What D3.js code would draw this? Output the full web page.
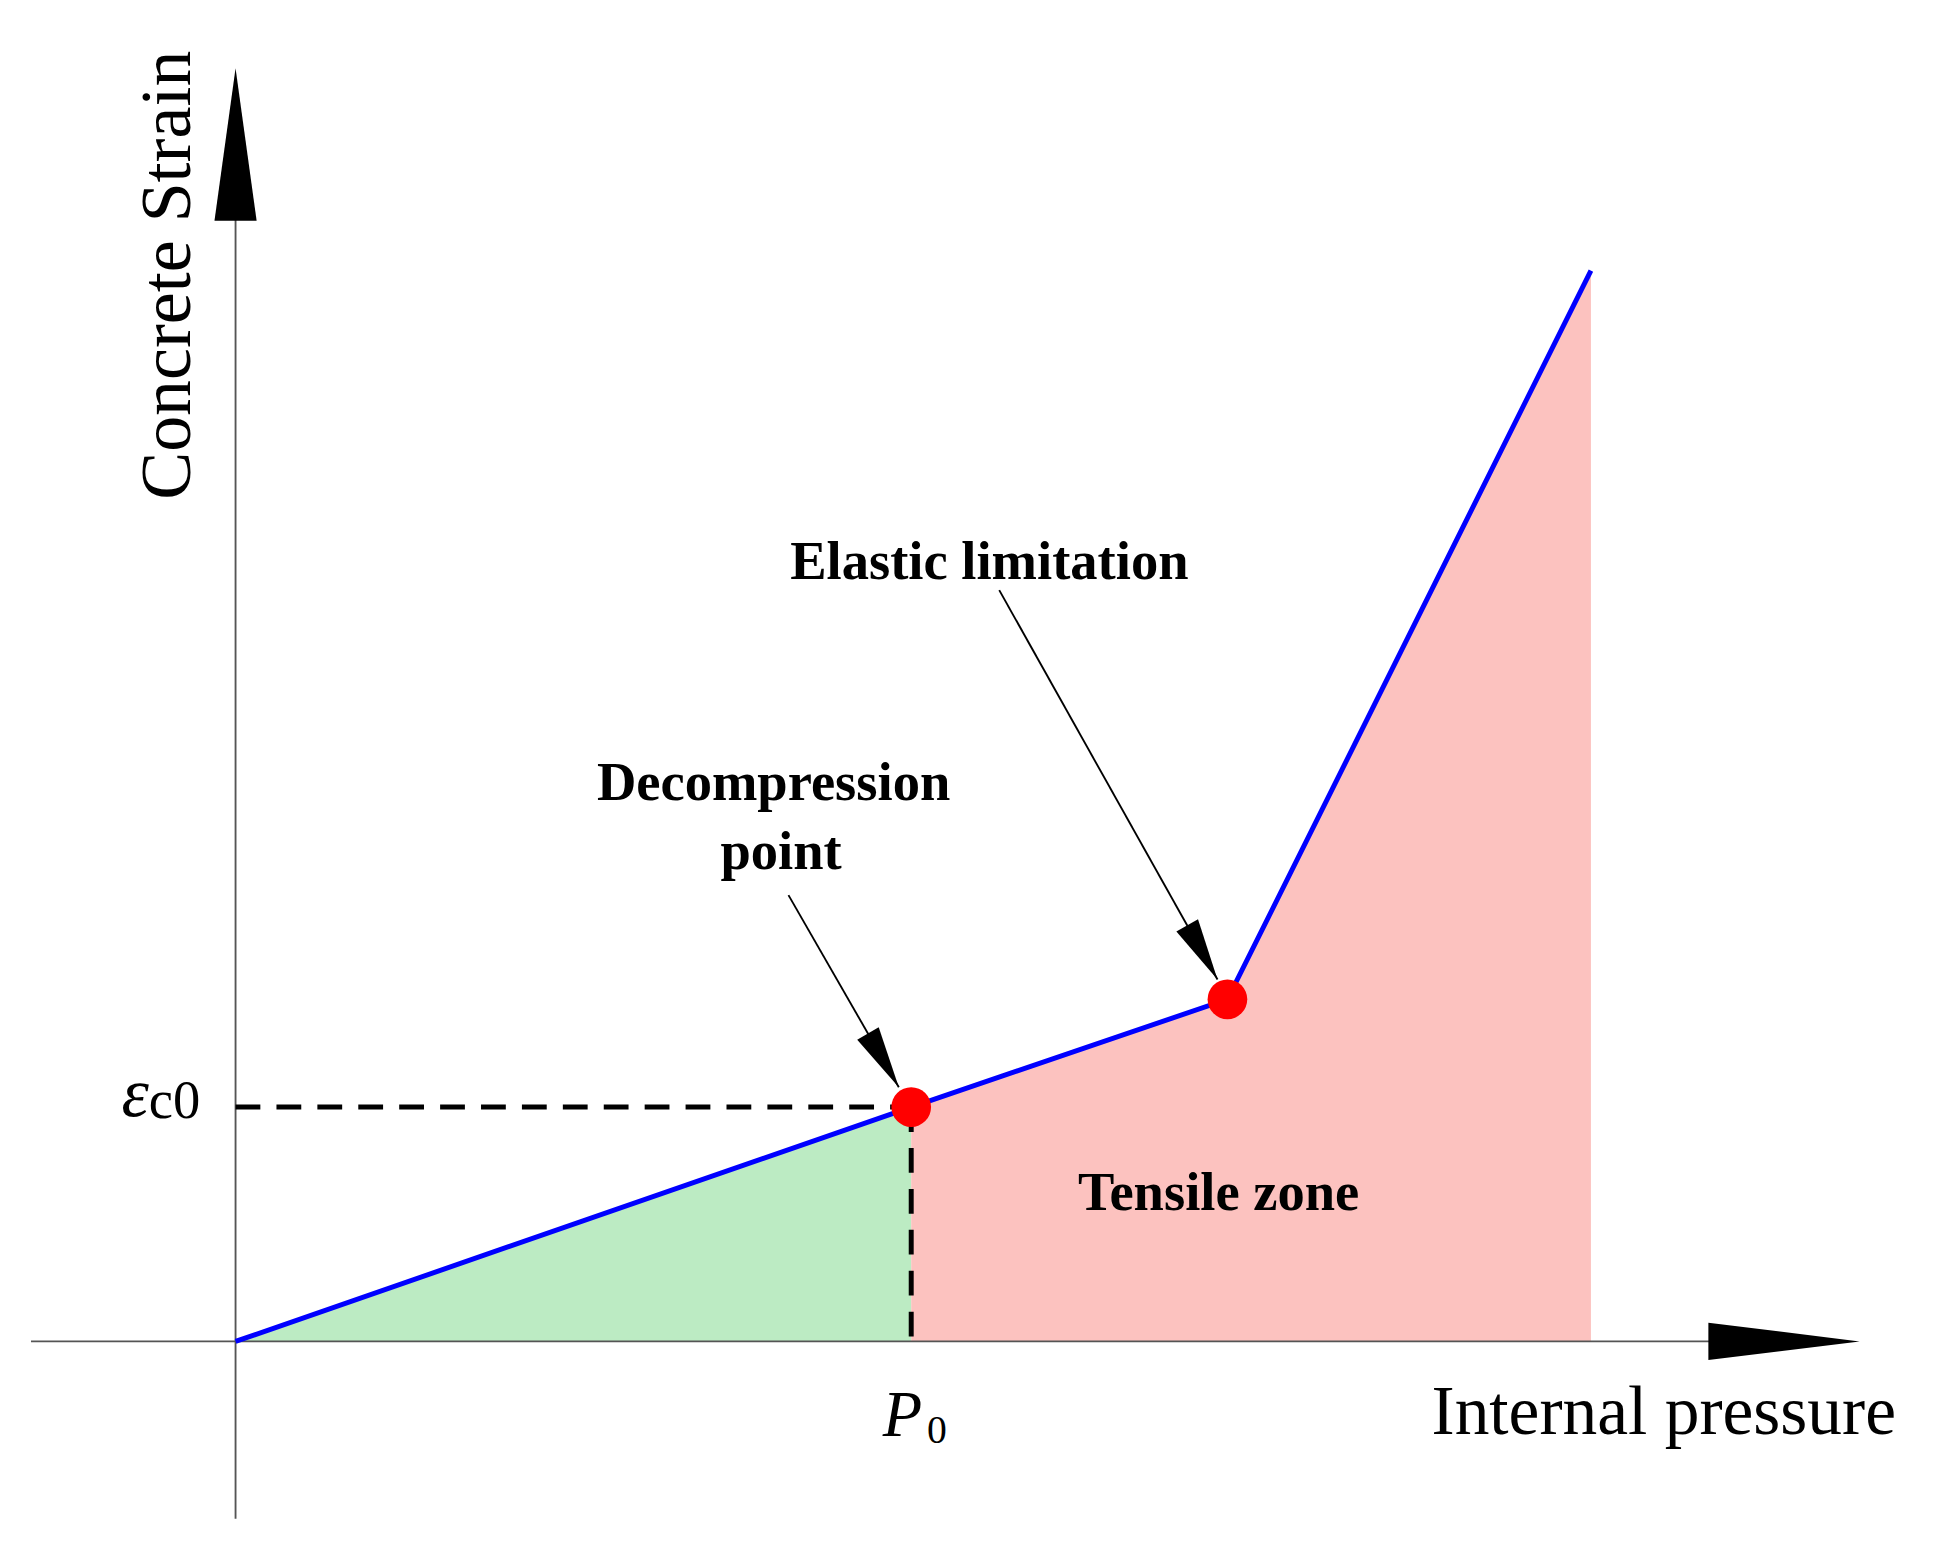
<!DOCTYPE html>
<html><head><meta charset="utf-8">
<script src="https://cdn.jsdelivr.net/npm/d3@7"></script>
<style>body{margin:0;background:#fff}</style></head>
<body><svg id="c" width="1934" height="1541" viewBox="0 0 1560 1243"></svg>
<script>
const pressure = [0, 1, 1.468, 2.006];
const strain = [0, 1, 1.46, 4.57];
const keyPoints = [1, 2]; // indices of red markers

const svg = d3.select("#c");
const x = d3.scaleLinear().domain([0, 1]).range([190, 735]);
const y = d3.scaleLinear().domain([0, 1]).range([1082, 893]);
const pts = pressure.map((p, i) => [p, strain[i]]);
const serif = "'Liberation Serif','Times New Roman',serif";

// fills
const area = d3.area().x(d => x(d[0])).y0(y(0)).y1(d => y(d[1]));
svg.append("path").attr("d", area(pts.slice(0, 2))).attr("fill", "#bcebc3");
svg.append("path").attr("d", area(pts.slice(1))).attr("fill", "#fcc2bf");

// axes
svg.append("line").attr("x1", 25).attr("x2", 1400).attr("y1", y(0)).attr("y2", y(0)).attr("stroke", "#555").attr("stroke-width", 1.5);
svg.append("path").attr("d", `M1378,${y(0)-15}L1500,${y(0)}L1378,${y(0)+15}Z`).attr("fill", "#000");
svg.append("line").attr("x1", x(0)).attr("x2", x(0)).attr("y1", 1225).attr("y2", 170).attr("stroke", "#555").attr("stroke-width", 1.5);
svg.append("path").attr("d", `M${x(0)-17},178L${x(0)},55L${x(0)+17},178Z`).attr("fill", "#000");

// dashed guides
svg.append("line").attr("x1", x(0)).attr("x2", x(1)).attr("y1", y(1)).attr("y2", y(1)).attr("stroke", "#000").attr("stroke-width", 4).attr("stroke-dasharray", "20,13");
svg.append("line").attr("x1", x(1)).attr("x2", x(1)).attr("y1", y(1)).attr("y2", y(0)).attr("stroke", "#000").attr("stroke-width", 4).attr("stroke-dasharray", "20,13");

// curve
svg.append("path").attr("d", d3.line().x(d => x(d[0])).y(d => y(d[1]))(pts)).attr("fill", "none").attr("stroke", "#0000ff").attr("stroke-width", 4);
svg.selectAll("circle.k").data(keyPoints).join("circle").attr("cx", i => x(pressure[i])).attr("cy", i => y(strain[i])).attr("r", 16).attr("fill", "#ff0000");

// annotation arrows
function arrow(x1, y1, x2, y2) {
  svg.append("line").attr("x1", x1).attr("y1", y1).attr("x2", x2).attr("y2", y2).attr("stroke", "#000").attr("stroke-width", 1.5);
  const a = Math.atan2(y2 - y1, x2 - x1), L = 50, W = 10;
  const bx = x2 - L * Math.cos(a), by = y2 - L * Math.sin(a);
  const px = -Math.sin(a) * W, py = Math.cos(a) * W;
  svg.append("path").attr("d", `M${x2},${y2}L${bx + px},${by + py}L${bx - px},${by - py}Z`).attr("fill", "#000");
}
arrow(636, 722, x(1) - 10, y(1) - 16);
arrow(806, 476, x(pressure[2]) - 8, y(strain[2]) - 16);

// texts
const t = (s, tx, ty, size, opts = {}) => svg.append("text").attr("x", tx).attr("y", ty).attr("font-family", serif).attr("font-size", size).attr("text-anchor", opts.anchor || "middle").attr("font-weight", opts.bold ? "bold" : "normal").attr("font-style", opts.italic ? "italic" : "normal").text(s);
t("Elastic limitation", 798, 467, 44, {bold: true});
t("Decompression", 624, 645, 44, {bold: true});
t("point", 630, 701, 44, {bold: true});
t("Tensile zone", 983, 976, 44, {bold: true});
t("Internal pressure", 1342, 1157, 56);
svg.append("text").attr("transform", "translate(153,222) rotate(-90)").attr("font-family", serif).attr("font-size", 58).attr("text-anchor", "middle").text("Concrete Strain");
const e = svg.append("text").attr("x", 98).attr("y", 900).attr("font-family", serif).attr("font-size", 56);
e.append("tspan").attr("font-style", "italic").text("ε");
e.append("tspan").attr("font-size", 44).attr("dy", 2).text("c0");
const p = svg.append("text").attr("x", 712).attr("y", 1158).attr("font-family", serif).attr("font-size", 52);
p.append("tspan").attr("font-style", "italic").text("P");
p.append("tspan").attr("font-size", 32).attr("dy", 6).attr("dx", 4).text("0");
</script></body></html>
